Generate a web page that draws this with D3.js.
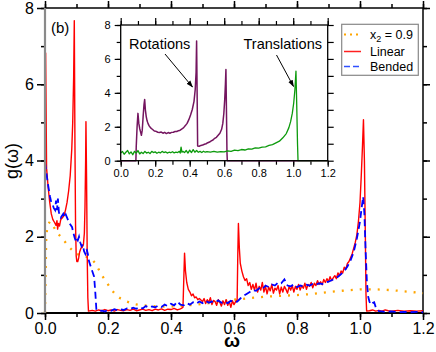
<!DOCTYPE html>
<html><head><meta charset="utf-8">
<script src="https://cdn.jsdelivr.net/npm/d3@7"></script>
<style>
html,body{margin:0;padding:0;background:#fff;}
svg{display:block;font-family:"Liberation Sans",Arial,Helvetica,sans-serif;}
</style></head>
<body>
<svg id="chart" width="436" height="352"></svg>
<script>
// ---------- DATA ----------
const xTicks = [0, 0.2, 0.4, 0.6, 0.8, 1.0, 1.2];
const yTicks = [0, 2, 4, 6, 8];
const legendLabels = ["x2 = 0.9", "Linear", "Bended"];

const linearData = [[0,0],[0.002,6.82],[0.005,3.8],[0.01,3.3],[0.015,2.9],[0.02,2.6],[0.025,2.45],[0.03,2.38],[0.035,2.3],[0.038,2.42],[0.04,2.2],[0.043,2.35],[0.046,2.28],[0.05,2.45],[0.055,2.5],[0.06,2.55],[0.065,2.7],[0.07,2.9],[0.075,3.2],[0.08,3.6],[0.085,4.3],[0.088,5.0],[0.091,6.2],[0.093,7.67],[0.095,4.5],[0.097,2.3],[0.099,1.5],[0.101,1.35],[0.104,1.35],[0.107,1.45],[0.11,1.6],[0.114,1.7],[0.118,1.72],[0.122,1.8],[0.125,2.1],[0.127,2.8],[0.129,4.0],[0.130,5.02],[0.132,3.5],[0.134,1.5],[0.136,0.4],[0.138,0.05],[0.15,0.07],[0.16,0.05],[0.17,0.08],[0.18,0.06],[0.19,0.09],[0.2,0.06],[0.21,0.08],[0.22,0.05],[0.23,0.09],[0.24,0.07],[0.25,0.06],[0.26,0.09],[0.27,0.07],[0.28,0.1],[0.29,0.06],[0.3,0.08],[0.31,0.1],[0.32,0.07],[0.33,0.09],[0.34,0.06],[0.35,0.1],[0.36,0.08],[0.37,0.11],[0.38,0.07],[0.39,0.1],[0.4,0.09],[0.41,0.12],[0.42,0.08],[0.43,0.11],[0.438,0.15],[0.441,1.0],[0.443,1.57],[0.446,1.1],[0.45,0.8],[0.455,0.62],[0.46,0.55],[0.465,0.45],[0.47,0.5],[0.475,0.4],[0.48,0.42],[0.485,0.35],[0.49,0.38],[0.5,0.3],[0.505,0.38],[0.51,0.25],[0.515,0.35],[0.52,0.28],[0.525,0.4],[0.53,0.22],[0.535,0.33],[0.54,0.3],[0.545,0.2],[0.55,0.35],[0.555,0.28],[0.56,0.18],[0.565,0.32],[0.57,0.22],[0.575,0.35],[0.58,0.2],[0.585,0.3],[0.59,0.15],[0.595,0.32],[0.6,0.22],[0.605,0.3],[0.61,0.35],[0.612,1.5],[0.614,2.35],[0.617,1.7],[0.62,1.3],[0.625,1.1],[0.63,0.95],[0.635,0.85],[0.64,0.9],[0.645,0.72],[0.65,0.8],[0.655,0.62],[0.66,0.75],[0.665,0.6],[0.67,0.78],[0.675,0.55],[0.68,0.7],[0.685,0.6],[0.69,0.8],[0.695,0.55],[0.7,0.7],[0.705,0.5],[0.71,0.68],[0.715,0.58],[0.72,0.75],[0.725,0.52],[0.73,0.65],[0.735,0.6],[0.74,0.72],[0.745,0.5],[0.75,0.68],[0.755,0.55],[0.76,0.7],[0.765,0.62],[0.77,0.52],[0.775,0.7],[0.78,0.6],[0.785,0.72],[0.79,0.55],[0.795,0.7],[0.8,0.62],[0.805,0.75],[0.81,0.6],[0.815,0.72],[0.82,0.65],[0.825,0.78],[0.83,0.62],[0.835,0.75],[0.84,0.7],[0.845,0.8],[0.85,0.66],[0.855,0.78],[0.86,0.72],[0.865,0.85],[0.87,0.75],[0.875,0.82],[0.88,0.74],[0.885,0.88],[0.89,0.8],[0.895,0.9],[0.9,0.82],[0.905,0.95],[0.91,0.85],[0.915,0.92],[0.92,0.98],[0.925,0.9],[0.93,1.05],[0.935,0.98],[0.94,1.1],[0.945,1.05],[0.95,1.2],[0.955,1.15],[0.96,1.3],[0.965,1.35],[0.97,1.45],[0.975,1.55],[0.98,1.7],[0.985,1.85],[0.99,2.05],[0.995,2.4],[1.0,2.9],[1.004,3.6],[1.008,4.4],[1.011,5.07],[1.014,4.0],[1.017,2.0],[1.019,0.5],[1.021,0.05],[1.03,0.06],[1.04,0.08],[1.05,0.05],[1.06,0.07],[1.07,0.05],[1.08,0.08],[1.09,0.06],[1.1,0.05],[1.12,0.07],[1.14,0.05],[1.16,0.06],[1.18,0.05],[1.2,0.06]];

const bendedData = [[0,3.95],[0.004,3.7],[0.008,3.45],[0.012,3.25],[0.016,3.05],[0.02,2.9],[0.024,2.85],[0.028,2.75],[0.032,2.7],[0.035,2.95],[0.038,2.7],[0.041,3.0],[0.044,2.65],[0.047,2.55],[0.05,2.5],[0.054,2.55],[0.058,2.6],[0.062,2.5],[0.066,2.58],[0.07,2.5],[0.074,2.42],[0.078,2.35],[0.082,2.3],[0.086,2.25],[0.09,2.1],[0.094,1.98],[0.098,1.88],[0.1,1.95],[0.104,1.9],[0.108,2.0],[0.112,1.85],[0.116,1.75],[0.12,1.8],[0.124,1.62],[0.128,1.55],[0.132,1.68],[0.136,1.55],[0.14,1.35],[0.144,1.25],[0.148,1.15],[0.152,1.05],[0.156,0.95],[0.16,0.5],[0.163,0.1],[0.17,0.05],[0.18,0.06],[0.19,0.04],[0.2,0.08],[0.21,0.06],[0.22,0.1],[0.23,0.07],[0.24,0.1],[0.25,0.08],[0.26,0.12],[0.27,0.1],[0.28,0.14],[0.29,0.11],[0.3,0.15],[0.31,0.12],[0.32,0.18],[0.33,0.14],[0.34,0.17],[0.35,0.15],[0.36,0.2],[0.37,0.16],[0.38,0.22],[0.39,0.18],[0.4,0.24],[0.41,0.2],[0.42,0.3],[0.43,0.22],[0.44,0.2],[0.45,0.26],[0.46,0.22],[0.47,0.28],[0.48,0.24],[0.49,0.3],[0.5,0.26],[0.51,0.32],[0.52,0.27],[0.53,0.3],[0.54,0.28],[0.55,0.33],[0.56,0.27],[0.57,0.3],[0.58,0.26],[0.59,0.32],[0.6,0.28],[0.61,0.3],[0.62,0.38],[0.63,0.45],[0.64,0.5],[0.65,0.55],[0.66,0.6],[0.67,0.58],[0.68,0.65],[0.69,0.62],[0.7,0.72],[0.71,0.68],[0.72,0.75],[0.73,0.72],[0.74,0.8],[0.75,0.78],[0.76,0.88],[0.77,0.72],[0.78,0.7],[0.79,0.75],[0.8,0.68],[0.81,0.72],[0.82,0.7],[0.83,0.74],[0.84,0.72],[0.85,0.76],[0.86,0.74],[0.87,0.78],[0.88,0.76],[0.89,0.8],[0.9,0.82],[0.91,0.86],[0.92,0.9],[0.93,0.95],[0.94,1.02],[0.95,1.1],[0.96,1.22],[0.97,1.38],[0.98,1.6],[0.99,1.95],[1.0,2.4],[1.005,2.75],[1.01,3.05],[1.014,2.6],[1.018,1.6],[1.022,0.8],[1.026,0.43],[1.03,0.3],[1.035,0.22],[1.04,0.26],[1.045,0.28],[1.05,0.15],[1.055,0.08],[1.06,0.05],[1.07,0.04],[1.08,0.03],[1.1,0.04],[1.12,0.02],[1.14,0.03],[1.16,0.02],[1.18,0.03],[1.2,0.02]];

const x2Data = [[0,0],[0.002,1.0],[0.004,2.0],[0.008,2.3],[0.016,2.4],[0.025,2.3],[0.035,2.15],[0.05,2.0],[0.065,1.85],[0.08,1.7],[0.1,1.55],[0.12,1.5],[0.14,1.45],[0.15,1.4],[0.16,1.3],[0.17,1.15],[0.18,1.0],[0.19,0.87],[0.2,0.75],[0.21,0.62],[0.22,0.52],[0.23,0.44],[0.24,0.38],[0.26,0.3],[0.28,0.24],[0.3,0.21],[0.33,0.19],[0.36,0.17],[0.4,0.17],[0.44,0.19],[0.48,0.22],[0.52,0.26],[0.56,0.3],[0.6,0.35],[0.65,0.39],[0.7,0.43],[0.75,0.45],[0.8,0.47],[0.85,0.5],[0.9,0.55],[0.95,0.59],[1.0,0.62],[1.05,0.62],[1.1,0.6],[1.15,0.56],[1.2,0.52]];

const rotationsData = [[0,0],[0.088,0],[0.09,0.8],[0.095,2.0],[0.1,2.79],[0.105,2.2],[0.11,1.9],[0.115,1.7],[0.12,1.5],[0.125,1.8],[0.13,2.6],[0.135,3.3],[0.139,3.61],[0.143,3.0],[0.148,2.6],[0.153,2.35],[0.158,2.2],[0.165,2.05],[0.17,1.98],[0.177,1.9],[0.185,1.84],[0.195,1.75],[0.205,1.73],[0.215,1.68],[0.225,1.66],[0.235,1.69],[0.245,1.62],[0.255,1.67],[0.265,1.6],[0.275,1.66],[0.285,1.62],[0.295,1.67],[0.305,1.68],[0.315,1.72],[0.325,1.72],[0.335,1.77],[0.345,1.8],[0.355,1.87],[0.365,1.95],[0.375,2.07],[0.385,2.2],[0.395,2.42],[0.405,2.7],[0.415,3.02],[0.425,3.5],[0.432,4.2],[0.437,5.2],[0.44,7.06],[0.443,4.0],[0.446,0.86],[0.455,0.85],[0.465,0.9],[0.475,0.92],[0.485,0.97],[0.495,1.0],[0.505,1.06],[0.515,1.1],[0.525,1.17],[0.535,1.22],[0.545,1.32],[0.555,1.38],[0.565,1.5],[0.575,1.62],[0.585,1.85],[0.592,2.2],[0.598,2.8],[0.603,3.6],[0.607,4.5],[0.61,5.37],[0.613,3.0],[0.616,0.5],[0.618,0],[1.2,0]];

const translationsData = [[0,0.45],[0.01,0.55],[0.02,0.38],[0.03,0.5],[0.04,0.6],[0.05,0.4],[0.06,0.52],[0.07,0.35],[0.08,0.55],[0.09,0.45],[0.1,0.6],[0.11,0.4],[0.12,0.5],[0.13,0.42],[0.14,0.55],[0.15,0.45],[0.16,0.5],[0.17,0.42],[0.18,0.55],[0.19,0.48],[0.2,0.52],[0.21,0.44],[0.22,0.5],[0.23,0.46],[0.24,0.55],[0.25,0.48],[0.26,0.52],[0.27,0.45],[0.28,0.5],[0.29,0.47],[0.3,0.53],[0.31,0.46],[0.32,0.5],[0.33,0.48],[0.34,0.55],[0.345,0.45],[0.35,0.8],[0.355,0.5],[0.36,0.55],[0.37,0.48],[0.38,0.6],[0.39,0.45],[0.4,0.62],[0.41,0.48],[0.42,0.65],[0.43,0.5],[0.44,0.6],[0.45,0.5],[0.46,0.55],[0.47,0.48],[0.48,0.56],[0.49,0.5],[0.5,0.54],[0.52,0.5],[0.54,0.55],[0.56,0.5],[0.58,0.54],[0.6,0.52],[0.62,0.58],[0.64,0.55],[0.66,0.62],[0.68,0.6],[0.7,0.66],[0.72,0.63],[0.74,0.7],[0.76,0.68],[0.78,0.75],[0.8,0.74],[0.82,0.8],[0.84,0.82],[0.86,0.9],[0.88,0.95],[0.9,1.05],[0.92,1.15],[0.94,1.35],[0.96,1.6],[0.975,1.95],[0.985,2.3],[0.995,2.8],[1.003,3.4],[1.01,4.2],[1.016,5.28],[1.02,3.5],[1.025,1.0],[1.028,0],[1.2,0]];

// ---------- CHART ----------
const svg = d3.select("#chart");
const x = d3.scaleLinear().domain([0, 1.2]).range([45, 423]);
const y = d3.scaleLinear().domain([0, 8]).range([313, 8]);

function styleAxis(g, fs) {
  g.select(".domain").remove();
  g.selectAll("line").attr("stroke", "#000").attr("stroke-width", 1.5);
  g.selectAll("text").attr("font-size", fs).attr("fill", "#000")
    .attr("font-family", '"Liberation Sans",Arial,sans-serif');
}
const minorX = d3.range(0, 1.21, 0.1).map(v => +v.toFixed(2));
const minorY = d3.range(0, 8.1, 1);

// main axes
svg.append("g").attr("transform", "translate(0,313)")
  .call(d3.axisBottom(x).tickValues(minorX).tickFormat("").tickSize(4)).call(g => styleAxis(g, 16));
svg.append("g").attr("transform", "translate(0,313)")
  .call(d3.axisBottom(x).tickValues(xTicks).tickFormat(d3.format(".1f")).tickSize(7).tickPadding(3)).call(g => styleAxis(g, 16));
svg.append("g").attr("transform", "translate(0,8)")
  .call(d3.axisTop(x).tickValues(minorX).tickFormat("").tickSize(4)).call(g => styleAxis(g, 16));
svg.append("g").attr("transform", "translate(0,8)")
  .call(d3.axisTop(x).tickValues(xTicks).tickFormat("").tickSize(7)).call(g => styleAxis(g, 16));
svg.append("g").attr("transform", "translate(45,0)")
  .call(d3.axisLeft(y).tickValues(minorY).tickFormat("").tickSize(4)).call(g => styleAxis(g, 16));
svg.append("g").attr("transform", "translate(45,0)")
  .call(d3.axisLeft(y).tickValues(yTicks).tickFormat(d3.format("d")).tickSize(8).tickPadding(3)).call(g => styleAxis(g, 16));
svg.append("g").attr("transform", "translate(423,0)")
  .call(d3.axisRight(y).tickValues(minorY).tickFormat("").tickSize(4)).call(g => styleAxis(g, 16));
svg.append("g").attr("transform", "translate(423,0)")
  .call(d3.axisRight(y).tickValues(yTicks).tickFormat("").tickSize(7)).call(g => styleAxis(g, 16));

// frame
svg.append("line").attr("x1", x(0)).attr("x2", x(1.2)).attr("y1", y(8)).attr("y2", y(8)).attr("stroke", "#000").attr("stroke-width", 1.5);
svg.append("line").attr("x1", x(0)).attr("x2", x(1.2)).attr("y1", y(0)).attr("y2", y(0)).attr("stroke", "#000").attr("stroke-width", 1.8);
svg.append("line").attr("x1", x(1.2)).attr("x2", x(1.2)).attr("y1", y(0)).attr("y2", y(8)).attr("stroke", "#000").attr("stroke-width", 1.5);

// curves
const line = d3.line().x(d => x(d[0])).y(d => y(d[1]));
svg.append("path").datum(x2Data).attr("d", line).attr("fill", "none")
  .attr("stroke", "#ffa500").attr("stroke-width", 2.3).attr("stroke-dasharray", "2,7");
svg.append("path").datum(linearData).attr("d", line).attr("fill", "none")
  .attr("stroke", "#ff0000").attr("stroke-width", 1.4).attr("stroke-linejoin", "round");
svg.append("path").datum(bendedData).attr("d", line).attr("fill", "none")
  .attr("stroke", "#0000ff").attr("stroke-width", 1.8).attr("stroke-dasharray", "7,4");

// left axis (gray)
svg.append("line").attr("x1", x(0)).attr("x2", x(0)).attr("y1", y(0)).attr("y2", y(8)).attr("stroke", "#8a8a8a").attr("stroke-width", 2.2);

// axis titles
svg.append("text").attr("x", 232).attr("y", 347).attr("text-anchor", "middle")
  .attr("font-size", 19).attr("font-weight", "bold").text("ω");
svg.append("text").attr("transform", "translate(17.5,161) rotate(-90)").attr("text-anchor", "middle")
  .attr("font-size", 18).text("g(ω)");
svg.append("text").attr("x", 51).attr("y", 33).attr("font-size", 15).text("(b)");

// ---------- INSET ----------
const xi = d3.scaleLinear().domain([0, 1.2]).range([120.7, 327.7]);
const yi = d3.scaleLinear().domain([0, 8]).range([160.7, 25]);
svg.append("rect").attr("x", xi(0)).attr("y", yi(8)).attr("width", xi(1.2) - xi(0)).attr("height", yi(0) - yi(8)).attr("fill", "#fff");

function styleInset(g) {
  g.select(".domain").remove();
  g.selectAll("line").attr("stroke", "#000").attr("stroke-width", 1.2);
  g.selectAll("text").attr("font-size", 11).attr("fill", "#000")
    .attr("font-family", '"Liberation Sans",Arial,sans-serif');
}
svg.append("g").attr("transform", `translate(0,${yi(0)})`)
  .call(d3.axisBottom(xi).tickValues(minorX).tickFormat("").tickSize(4)).call(styleInset);
svg.append("g").attr("transform", `translate(0,${yi(0)})`)
  .call(d3.axisBottom(xi).tickValues(xTicks).tickFormat(d3.format(".1f")).tickSize(6).tickPadding(3)).call(styleInset);
svg.append("g").attr("transform", `translate(0,${yi(8)})`)
  .call(d3.axisTop(xi).tickValues(minorX).tickFormat("").tickSize(4)).call(styleInset);
svg.append("g").attr("transform", `translate(0,${yi(8)})`)
  .call(d3.axisTop(xi).tickValues(xTicks).tickFormat("").tickSize(7)).call(styleInset);
svg.append("g").attr("transform", `translate(${xi(0)},0)`)
  .call(d3.axisLeft(yi).tickValues(minorY).tickFormat("").tickSize(4)).call(styleInset);
svg.append("g").attr("transform", `translate(${xi(0)},0)`)
  .call(d3.axisLeft(yi).tickValues(yTicks).tickFormat(d3.format("d")).tickSize(6).tickPadding(4)).call(styleInset);
svg.append("g").attr("transform", `translate(${xi(1.2)},0)`)
  .call(d3.axisRight(yi).tickValues(minorY).tickFormat("").tickSize(6)).call(styleInset);

const linei = d3.line().x(d => xi(d[0])).y(d => yi(d[1]));
svg.append("path").datum(rotationsData).attr("d", linei).attr("fill", "none")
  .attr("stroke", "#74155f").attr("stroke-width", 1.5).attr("stroke-linejoin", "round");
svg.append("path").datum(translationsData).attr("d", linei).attr("fill", "none")
  .attr("stroke", "#0c9a0c").attr("stroke-width", 1.3).attr("stroke-linejoin", "round");

svg.append("rect").attr("x", xi(0)).attr("y", yi(8)).attr("width", xi(1.2) - xi(0)).attr("height", yi(0) - yi(8))
  .attr("fill", "none").attr("stroke", "#000").attr("stroke-width", 1.3);

// annotations
const defs = svg.append("defs");
defs.append("marker").attr("id", "arr").attr("viewBox", "0 0 10 10").attr("refX", 9).attr("refY", 5)
  .attr("markerWidth", 7).attr("markerHeight", 7).attr("orient", "auto")
  .append("path").attr("d", "M0,1.5 L10,5 L0,8.5 Z").attr("fill", "#000");
svg.append("text").attr("x", 129).attr("y", 48.5).attr("font-size", 14.5).text("Rotations");
svg.append("line").attr("x1", 165).attr("y1", 54).attr("x2", 192.5).attr("y2", 87)
  .attr("stroke", "#000").attr("stroke-width", 1).attr("marker-end", "url(#arr)");
svg.append("text").attr("x", 243.5).attr("y", 48.5).attr("font-size", 14.5).text("Translations");
svg.append("line").attr("x1", 276.5).attr("y1", 55).attr("x2", 293.5).attr("y2", 86.5)
  .attr("stroke", "#000").attr("stroke-width", 1).attr("marker-end", "url(#arr)");

// ---------- LEGEND ----------
const lg = svg.append("g");
lg.append("rect").attr("x", 341.7).attr("y", 24.3).attr("width", 76.6).attr("height", 51)
  .attr("fill", "#fff").attr("stroke", "#888").attr("stroke-width", 1.2);
const legendStyles = [
  {color: "#ffa500", dash: "2,4", w: 2.2},
  {color: "#ff2020", dash: null, w: 1.5},
  {color: "#3050ff", dash: "6,3", w: 1.6}
];
const rowY = [34.5, 51.5, 66.5];
legendLabels.forEach((lab, i) => {
  const s = legendStyles[i];
  const l = lg.append("line").attr("x1", 344).attr("x2", 361).attr("y1", rowY[i]).attr("y2", rowY[i])
    .attr("stroke", s.color).attr("stroke-width", s.w);
  if (s.dash) l.attr("stroke-dasharray", s.dash);
  const t = lg.append("text").attr("x", 370).attr("y", rowY[i] + 4.5).attr("font-size", 12.5);
  if (i === 0) {
    t.append("tspan").text("x");
    t.append("tspan").attr("font-size", 9).attr("dy", 3).text("2");
    t.append("tspan").attr("dy", -3).text(" = 0.9");
  } else {
    t.text(lab);
  }
});
</script>
</body></html>
